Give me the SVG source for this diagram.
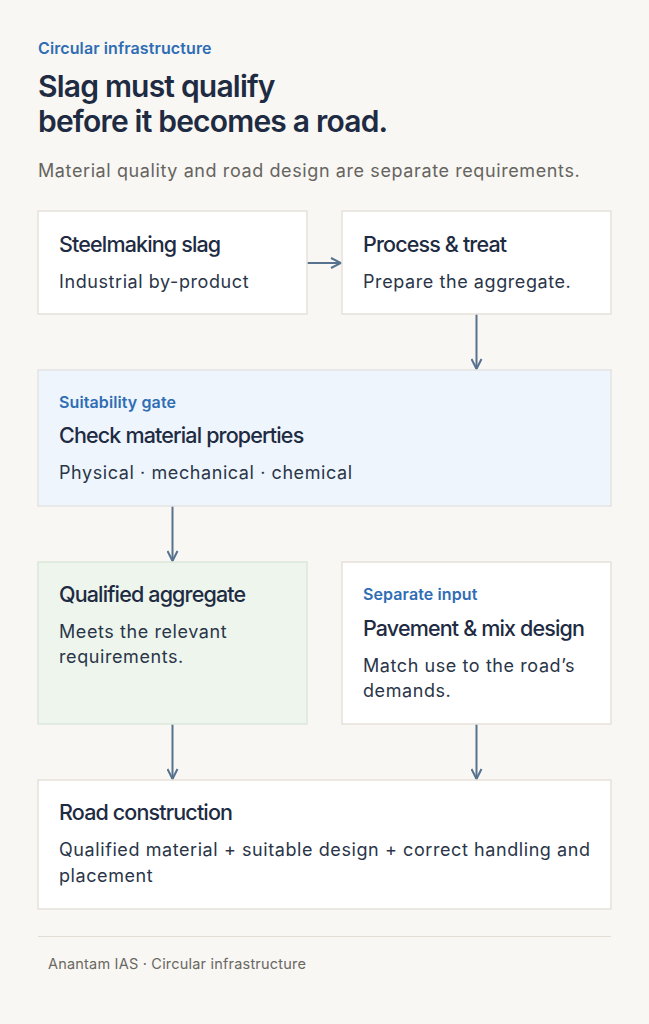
<svg xmlns="http://www.w3.org/2000/svg" width="649" height="1024" viewBox="0 0 649 1024">
<defs>
<style>
.bg{fill:#f8f7f3}
.box{fill:#ffffff;stroke:#e6e2da;stroke-width:1.5}
.gate{fill:#eef5fd;stroke:#e3e4e2;stroke-width:1.5}
.ok{fill:#edf5ed;stroke:#dbe8dc;stroke-width:1.5}
.kick{font-family:Inter,"Liberation Sans",sans-serif;font-weight:600;font-size:16px;letter-spacing:0.1px;fill:#2f6db4}
.title{font-family:Inter,"Liberation Sans",sans-serif;font-weight:600;font-size:30px;letter-spacing:-0.8px;fill:#1e2b42}
.sub{font-family:Inter,"Liberation Sans",sans-serif;font-size:18px;letter-spacing:0.6px;fill:#66645f}
.nt{font-family:Inter,"Liberation Sans",sans-serif;font-weight:500;font-size:21.5px;letter-spacing:-0.85px;fill:#1e2b42}
.nb{font-family:Inter,"Liberation Sans",sans-serif;font-size:18px;letter-spacing:0.58px;fill:#2a3548}
.foot{font-family:Inter,"Liberation Sans",sans-serif;font-size:14.5px;letter-spacing:0.2px;fill:#6a6862}
.conn{stroke:#56728f;stroke-width:2;fill:none}
</style>
<marker id="ah" viewBox="0 0 12 12" refX="11" refY="6" markerWidth="12" markerHeight="12" markerUnits="userSpaceOnUse" orient="auto">
<path d="M1,1 L11,6 L1,11" fill="none" stroke="#56728f" stroke-width="2"/>
</marker>
</defs>
<rect class="bg" x="0" y="0" width="649" height="1024"/>
<g id="header">
<text class="kick" x="38" y="54">Circular infrastructure</text>
<text class="title" x="38" y="97">Slag must qualify</text>
<text class="title" x="38" y="132">before it becomes a road.</text>
<text class="sub" x="38" y="177">Material quality and road design are separate requirements.</text>
</g>
<g id="connectors">
<line class="conn" x1="307" y1="263" x2="341" y2="263" marker-end="url(#ah)"/>
<line class="conn" x1="476.5" y1="314" x2="476.5" y2="369" marker-end="url(#ah)"/>
<line class="conn" x1="172.5" y1="506" x2="172.5" y2="561" marker-end="url(#ah)"/>
<line class="conn" x1="172.5" y1="724" x2="172.5" y2="779" marker-end="url(#ah)"/>
<line class="conn" x1="476.5" y1="724" x2="476.5" y2="779" marker-end="url(#ah)"/>
</g>
<g id="slag">
<rect class="box" x="38" y="211" width="269" height="103"/>
<text class="nt" x="59" y="252">Steelmaking slag</text>
<text class="nb" x="59" y="288">Industrial by-product</text>
</g>
<g id="process">
<rect class="box" x="342" y="211" width="269" height="103"/>
<text class="nt" x="363" y="252">Process &amp; treat</text>
<text class="nb" x="363" y="288">Prepare the aggregate.</text>
</g>
<g id="gate">
<rect class="gate" x="38" y="370" width="573" height="136"/>
<text class="kick" x="59" y="408">Suitability gate</text>
<text class="nt" x="59" y="443">Check material properties</text>
<text class="nb" x="59" y="479">Physical · mechanical · chemical</text>
</g>
<g id="qualified">
<rect class="ok" x="38" y="562" width="269" height="162"/>
<text class="nt" x="59" y="602">Qualified aggregate</text>
<text class="nb" x="59" y="638">Meets the relevant</text>
<text class="nb" x="59" y="663">requirements.</text>
</g>
<g id="design">
<rect class="box" x="342" y="562" width="269" height="162"/>
<text class="kick" x="363" y="600">Separate input</text>
<text class="nt" x="363" y="636">Pavement &amp; mix design</text>
<text class="nb" x="363" y="672">Match use to the road’s</text>
<text class="nb" x="363" y="697">demands.</text>
</g>
<g id="road">
<rect class="box" x="38" y="780" width="573" height="129"/>
<text class="nt" x="59" y="820">Road construction</text>
<text class="nb" x="59" y="856">Qualified material + suitable design + correct handling and</text>
<text class="nb" x="59" y="882">placement</text>
</g>
<g id="footer">
<line x1="38" y1="936.5" x2="611" y2="936.5" stroke="#e2ded4" stroke-width="1.2"/>
<text class="foot" x="48" y="969">Anantam IAS · Circular infrastructure</text>
</g>
</svg>
